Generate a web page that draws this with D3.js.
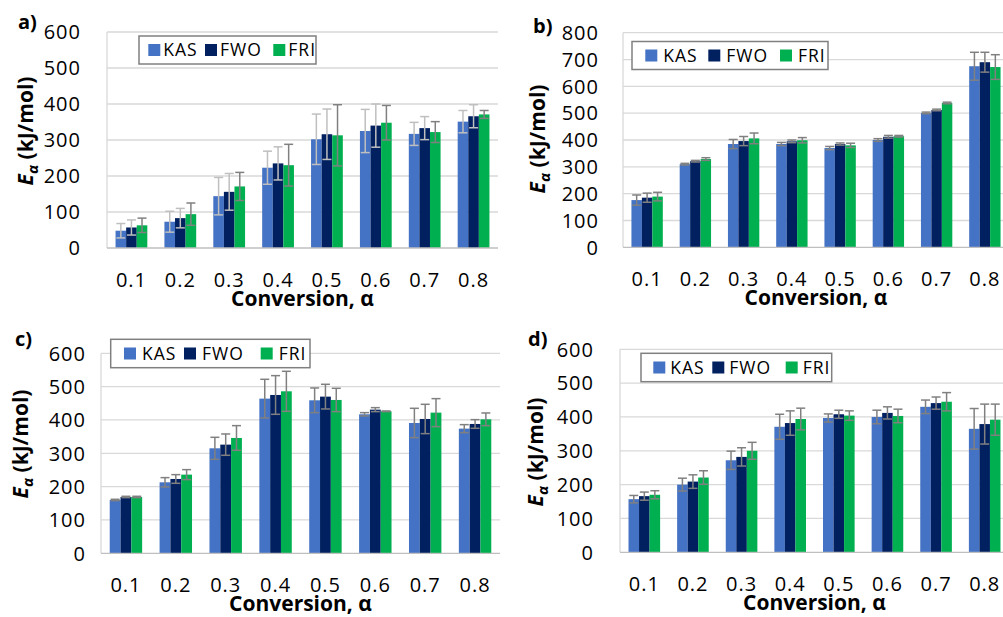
<!DOCTYPE html>
<html>
<head>
<meta charset="utf-8">
<script src="https://cdn.jsdelivr.net/npm/d3@7"></script>
<style>
  html, body { margin: 0; padding: 0; background: #fff; }
  svg { display: block; }
  text { font-family: "Open Sans", "Noto Sans", sans-serif; fill: #000; }
</style>
</head>
<body>
<svg id="chart" width="1003" height="617"></svg>
<script>
// ---------- data ----------
const categories = ["0.1", "0.2", "0.3", "0.4", "0.5", "0.6", "0.7", "0.8"];
const seriesNames = ["KAS", "FWO", "FRI"];
const seriesColors = ["#4472C4", "#002060", "#00B050"];

// panel a
const aKAS = [48, 73, 144, 223, 302, 325, 317, 351];
const aFWO = [57, 83, 156, 235, 316, 340, 333, 366];
const aFRI = [63, 94, 171, 230, 313, 348, 322, 371];
const aErrKAS = [20, 29, 52, 46, 70, 60, 32, 31];
const aErrFWO = [21, 27, 51, 46, 70, 60, 32, 32];
const aErrFRI = [20, 31, 39, 58, 85, 48, 29, 11];

// panel b
const bKAS = [176, 310, 385, 385, 370, 400, 501, 675];
const bFWO = [185, 321, 396, 395, 385, 412, 512, 690];
const bFRI = [189, 329, 406, 399, 380, 414, 538, 672];
const bErrKAS = [19, 3, 17, 6, 6, 5, 3, 52];
const bErrFWO = [17, 3, 17, 5, 4, 5, 3, 37];
const bErrFRI = [16, 5, 20, 10, 8, 3, 3, 46];

// panel c
const cKAS = [160, 213, 315, 464, 459, 417, 391, 374];
const cFWO = [169, 223, 326, 475, 470, 431, 403, 388];
const cFRI = [169, 236, 346, 486, 460, 426, 422, 402];
const cErrKAS = [2, 14, 33, 58, 37, 5, 44, 12];
const cErrFWO = [2, 13, 32, 58, 37, 6, 44, 13];
const cErrFRI = [2, 15, 37, 60, 35, 1, 42, 19];

// panel d
const dKAS = [157, 200, 272, 371, 397, 400, 430, 365];
const dFWO = [166, 209, 282, 382, 408, 412, 441, 379];
const dFRI = [170, 221, 300, 394, 404, 403, 445, 392];
const dErrKAS = [11, 19, 27, 37, 12, 20, 20, 60];
const dErrFWO = [12, 20, 27, 36, 12, 18, 18, 59];
const dErrFRI = [12, 20, 25, 32, 14, 20, 27, 46];

const yTicks600 = [0, 100, 200, 300, 400, 500, 600];
const yTicks800 = [0, 100, 200, 300, 400, 500, 600, 700, 800];
const xTitle = "Conversion, α";

// ---------- layout ----------
const panels = [
  { label: "a)", values: [aKAS, aFWO, aFRI], errs: [aErrKAS, aErrFWO, aErrFRI], ticks: yTicks600,
    errColors: ["#BFBFBF", "#BFBFBF", "#808080"],
    left: 107, right: 498, top: 32, bottom: 248, tickGap: 26,
    labelX: 18, labelY: 29, yTitleX: 33, yTitleY: 131,
    leg: { x: 139, y: 36, w: 177, h: 28, items: [9.3, 66, 134.3], tgap: 15 } },
  { label: "b)", values: [bKAS, bFWO, bFRI], errs: [bErrKAS, bErrFWO, bErrFRI], ticks: yTicks800,
    errColors: ["#808080", "#808080", "#808080"],
    left: 623, right: 1009, top: 32.7, bottom: 247.3, tickGap: 24,
    labelX: 533, labelY: 33, yTitleX: 545, yTitleY: 139,
    leg: { x: 632, y: 41.5, w: 196, h: 28, items: [13.3, 76.3, 148], tgap: 18 } },
  { label: "c)", values: [cKAS, cFWO, cFRI], errs: [cErrKAS, cErrFWO, cErrFRI], ticks: yTicks600,
    errColors: ["#808080", "#808080", "#808080"],
    left: 101, right: 500, top: 353.3, bottom: 553.3, tickGap: 15,
    labelX: 15, labelY: 346, yTitleX: 28, yTitleY: 444,
    leg: { x: 110.7, y: 339.3, w: 199.3, h: 28.4, items: [13.3, 73.3, 150], tgap: 18 } },
  { label: "d)", values: [dKAS, dFWO, dFRI], errs: [dErrKAS, dErrFWO, dErrFRI], ticks: yTicks600,
    errColors: ["#808080", "#808080", "#808080"],
    left: 620, right: 1009, top: 349.3, bottom: 552.3, tickGap: 26,
    labelX: 528, labelY: 346, yTitleX: 543, yTitleY: 452,
    leg: { x: 641, y: 353.3, w: 190.7, h: 28.4, items: [12.3, 71.3, 144.7], tgap: 17 } }
];

const svg = d3.select("#chart");

panels.forEach(p => {
  const g = svg.append("g");
  const yMax = p.ticks[p.ticks.length - 1];
  const y = d3.scaleLinear().domain([0, yMax]).range([p.bottom, p.top]);
  const x0 = d3.scaleBand().domain(categories).range([p.left, p.right])
    .paddingInner(0.35).paddingOuter(0.175);
  const x1 = d3.scaleBand().domain(seriesNames).range([0, x0.bandwidth()]).padding(0);

  // gridlines
  g.append("g").selectAll("line").data(p.ticks.filter(t => t > 0)).join("line")
    .attr("x1", p.left).attr("x2", p.right)
    .attr("y1", d => y(d)).attr("y2", d => y(d))
    .attr("stroke", "#D9D9D9").attr("stroke-width", 1.3);

  // y axis line
  g.append("line").attr("x1", p.left).attr("x2", p.left)
    .attr("y1", p.top).attr("y2", p.bottom)
    .attr("stroke", "#D9D9D9").attr("stroke-width", 1.3);

  // y tick labels
  g.append("g").selectAll("text").data(p.ticks).join("text")
    .attr("x", p.left - p.tickGap).attr("y", d => y(d)).attr("dy", "0.36em")
    .attr("text-anchor", "end").style("font-size", "20px").style("letter-spacing", "1px")
    .text(d => d);

  // bars
  seriesNames.forEach((s, si) => {
    g.append("g").selectAll("rect").data(categories).join("rect")
      .attr("x", c => x0(c) + x1(s))
      .attr("width", x1.bandwidth())
      .attr("y", (c, i) => y(p.values[si][i]))
      .attr("height", (c, i) => p.bottom - y(p.values[si][i]))
      .attr("fill", seriesColors[si]);
  });

  // x axis line
  g.append("line").attr("x1", p.left).attr("x2", p.right)
    .attr("y1", p.bottom).attr("y2", p.bottom)
    .attr("stroke", "#BFBFBF").attr("stroke-width", 1.3);

  // error bars
  seriesNames.forEach((s, si) => {
    const eg = g.append("g").attr("stroke", p.errColors[si]).attr("stroke-width", 1.5).attr("fill", "none");
    categories.forEach((c, i) => {
      const cx = x0(c) + x1(s) + x1.bandwidth() / 2;
      const v = p.values[si][i], e = p.errs[si][i];
      const yt = y(v + e), yb = y(v - e), hw = 4.5;
      eg.append("line").attr("x1", cx).attr("x2", cx).attr("y1", yt).attr("y2", yb);
      eg.append("line").attr("x1", cx - hw).attr("x2", cx + hw).attr("y1", yt).attr("y2", yt);
      eg.append("line").attr("x1", cx - hw).attr("x2", cx + hw).attr("y1", yb).attr("y2", yb);
    });
  });

  // x tick labels
  g.append("g").selectAll("text").data(categories).join("text")
    .attr("x", c => x0(c) + x0.bandwidth() / 2).attr("y", p.bottom + 38.5)
    .attr("text-anchor", "middle").style("font-size", "20px").style("letter-spacing", "1px")
    .text(c => c);

  // x title
  g.append("text")
    .attr("x", x0(categories[0]) + (x0(categories[7]) + x0.bandwidth() - x0(categories[0])) / 2)
    .attr("y", p.bottom + 58)
    .attr("text-anchor", "middle").style("font-size", "21px").style("font-weight", "bold")
    .text(xTitle);

  // y title
  const yt = g.append("text")
    .attr("transform", `translate(${p.yTitleX},${p.yTitleY}) rotate(-90)`)
    .attr("text-anchor", "middle").style("font-size", "21px").style("font-weight", "bold");
  yt.append("tspan").style("font-style", "italic").text("E");
  yt.append("tspan").style("font-style", "italic").style("font-size", "15px").attr("dy", 5).text("α");
  yt.append("tspan").attr("dy", -5).text(" (kJ/mol)");

  // panel label
  g.append("text").attr("x", p.labelX).attr("y", p.labelY)
    .style("font-size", "20px").style("font-weight", "bold").text(p.label);

  // legend
  const L = p.leg;
  const lg = g.append("g").attr("transform", `translate(${L.x},${L.y})`);
  lg.append("rect").attr("width", L.w).attr("height", L.h)
    .attr("fill", "#fff").attr("stroke", "#808080").attr("stroke-width", 1.5);
  seriesNames.forEach((s, si) => {
    lg.append("rect").attr("x", L.items[si]).attr("y", L.h / 2 - 6)
      .attr("width", 12).attr("height", 12).attr("fill", seriesColors[si]);
    lg.append("text").attr("x", L.items[si] + L.tgap).attr("y", L.h / 2).attr("dy", "0.36em")
      .style("font-size", "17.5px").style("letter-spacing", "1px").text(s);
  });
});
</script>
</body>
</html>
